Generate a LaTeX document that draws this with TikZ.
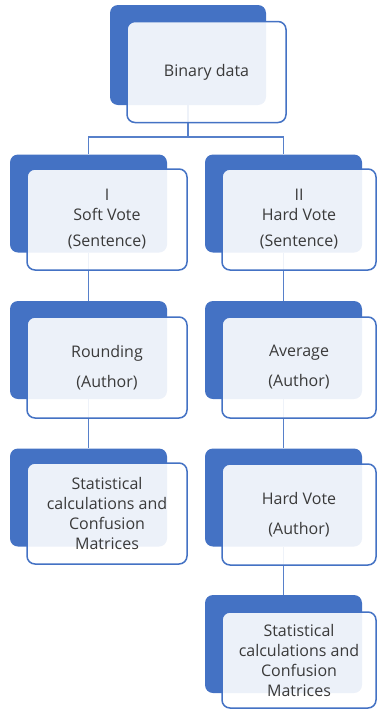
\documentclass[tikz,border=0pt]{standalone}
\usepackage{fontspec}
\setmainfont{Open Sans}
\usepackage{tikz}
\usetikzlibrary{positioning}
\definecolor{vtblue}{HTML}{4472C4}
\definecolor{vttext}{HTML}{3A3A3A}
\tikzset{
  vtback/.style={fill=vtblue, rounded corners=8pt, inner sep=0pt,
    minimum width=157pt, minimum height=98pt},
  vtfront/.style={draw=vtblue, line width=1.5pt, fill=white, fill opacity=0.9,
    text opacity=1, text=vttext, rounded corners=8pt, inner sep=0pt, align=center,
    minimum width=160pt, minimum height=101pt, font=\fontsize{16}{20}\selectfont},
  vtline/.style={draw=vtblue!90, line width=1.8pt}
}

\begin{document}
\begin{tikzpicture}[x=1pt,y=-1pt]
  \useasboundingbox (0,0) rectangle (377,710);
  % back boxes
  \node[vtback, minimum width=156pt, minimum height=100pt] (rootbg) at (188,55) {};
  \node[vtback] (softbg) at (88.5,203.5) {};
  \node[vtback] (hardbg) at (283.5,203.5) {};
  \node[vtback] (roundbg) at (88.5,350) {};
  \node[vtback] (avgbg) at (283.5,350) {};
  \node[vtback] (statlbg) at (88.5,497.5) {};
  \node[vtback] (hardaubg) at (283.5,497.5) {};
  \node[vtback] (statrbg) at (283.5,644) {};
  % connectors
  \coordinate (split) at (188,137);
  \draw[vtline] (rootbg.south) -- (split);
  \draw[vtline] (split) -| (softbg.north);
  \draw[vtline] (split) -| (hardbg.north);
  \draw[vtline] (softbg) -- (roundbg);
  \draw[vtline] (roundbg) -- (statlbg);
  \draw[vtline] (hardbg) -- (avgbg);
  \draw[vtline] (avgbg) -- (hardaubg);
  \draw[vtline] (hardaubg) -- (statrbg);
  % front boxes
  \node[vtfront, minimum width=159pt] (root) at (206.5,72) {Binary data};
  \node[vtfront] (soft) at (107,219.5) {I\\Soft Vote\\[6pt](Sentence)};
  \node[vtfront, minimum width=154pt] (hard) at (299,219.5) {II\\Hard Vote\\[6pt](Sentence)};
  \node[vtfront] (round) at (107,367.5) {Rounding\\[10pt](Author)};
  \node[vtfront, minimum width=154pt] (avg) at (299,367.5) {Average\\[10pt](Author)};
  \node[vtfront] (statl) at (107,513.5) {Statistical\\calculations and\\Confusion\\Matrices};
  \node[vtfront, minimum width=154pt] (hardau) at (299,514.5) {Hard Vote\\[10pt](Author)};
  \node[vtfront, minimum width=154pt, minimum height=96pt] (statr) at (299,660) {Statistical\\calculations and\\Confusion\\Matrices};
\end{tikzpicture}
\end{document}
